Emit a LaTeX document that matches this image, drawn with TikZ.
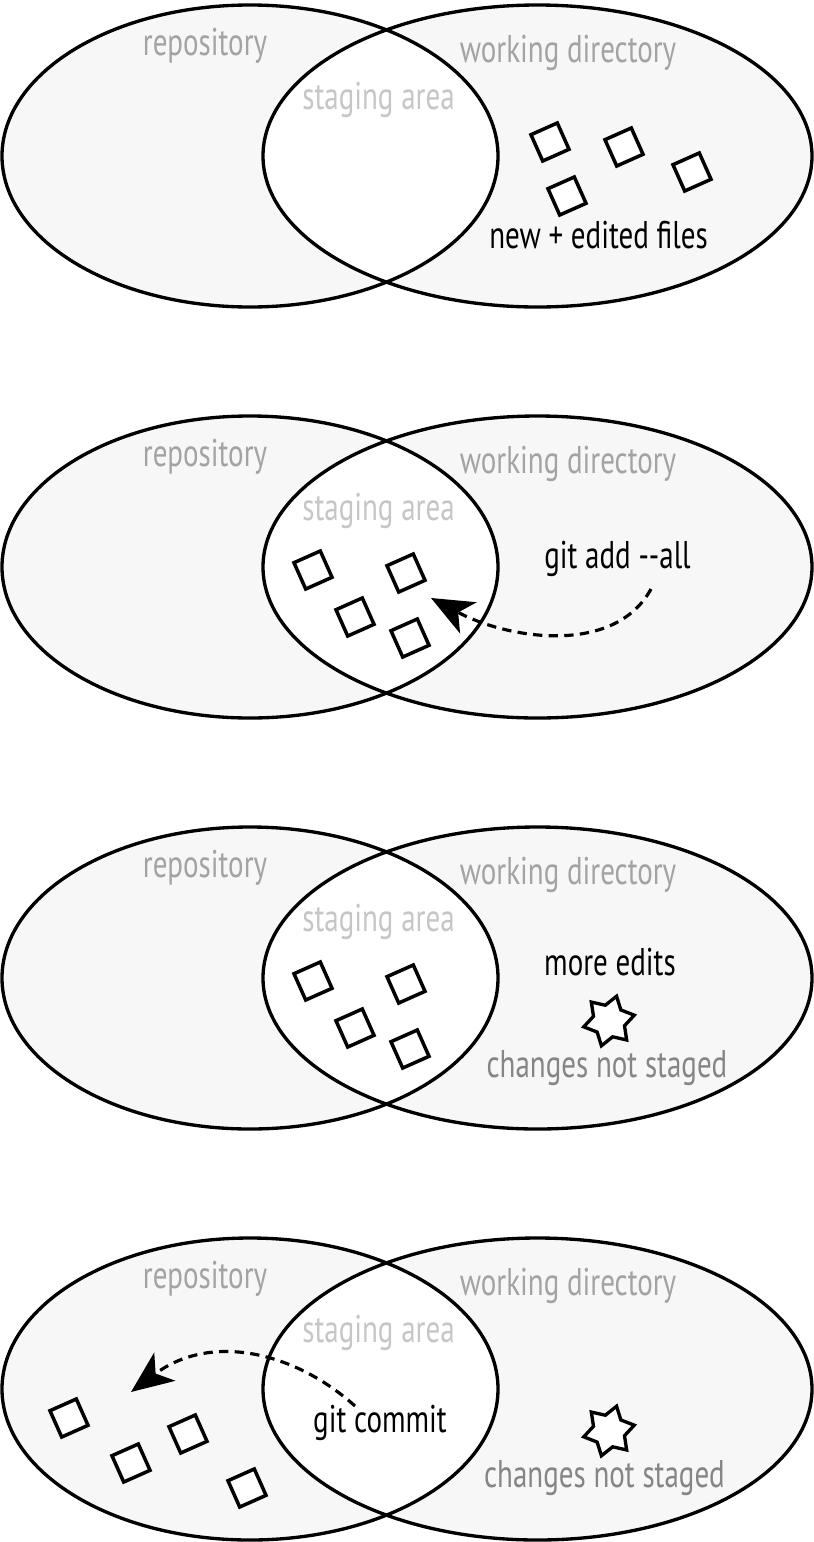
\documentclass[tikz,border=0pt]{standalone}
\usepackage{fontspec}
\setmainfont[FakeStretch=0.75]{PT Sans}
\usepackage{xcolor}
\usepackage{tikz}
\usetikzlibrary{arrows.meta,shapes.geometric}
\definecolor{areafill}{HTML}{F7F7F7}
\definecolor{areagray}{HTML}{A3A3A3}
\definecolor{stagegray}{HTML}{C6C6C6}
\definecolor{unstaged}{HTML}{858585}

\begin{document}
\begin{tikzpicture}[x=0.02cm,y=-0.02cm,
		every node/.style={font=\fontsize{22}{26}\selectfont,anchor=base,inner sep=0pt},
		file/.style={draw,fill=white,line width=2pt,minimum size=16.4pt,rotate=24,anchor=center},
		edit/.style={star,star points=6,star point ratio=1.6,draw,fill=white,line width=1.9pt,minimum size=29.5pt,rotate=-17,anchor=center},
		cmd/.style={-{Stealth[length=24pt,width=20pt,inset=6.5pt]},line width=1.8pt,dash pattern=on 5.3pt off 3.6pt}]
		\useasboundingbox (0,0) rectangle (814,1542);
		%
		\foreach \cy/\n in {156/1,567/2,978/3,1389/4}{
			\fill[areafill] (250,\cy) ellipse [x radius=248,y radius=151];
			\fill[areafill] (537.5,\cy) ellipse [x radius=274.5,y radius=151];
			\begin{scope}
				\clip (250,\cy) ellipse [x radius=248,y radius=151];
				\fill[white] (537.5,\cy) ellipse [x radius=274.5,y radius=151];
			\end{scope}
			\draw[line width=1.9pt] (250,\cy) ellipse [x radius=248,y radius=151];
			\draw[line width=1.9pt] (537.5,\cy) ellipse [x radius=274.5,y radius=151];
			\node[text=areagray] (repo\n) at (205,\cy-101) {repository};
			\node[text=areagray] (work\n) at (568,\cy-94) {working directory};
			\node[text=stagegray] (stage\n) at (378.5,\cy-47) {staging area};
		}
		%
		% 1: new files in the working directory
		\node[file] (f1a) at (550,142) {};
		\node[file] (f1b) at (624,147) {};
		\node[file] (f1c) at (692,172) {};
		\node[file] (f1d) at (567,196) {};
		\node (newfiles) at (598.5,248) {new + edited files};
		%
		% 2: git add
		\node[file] (f2a) at (313,570) {};
		\node[file] (f2b) at (406,573) {};
		\node[file] (f2c) at (355,617) {};
		\node[file] (f2d) at (410,638) {};
		\node (gitadd) at (617.5,568) {git add -{}-all};
		\coordinate (addfrom) at (651,589);
		\coordinate (addto) at (431,598);
		\draw[cmd] (addfrom) .. controls (615,655) and (510,640) .. (addto);
		%
		% 3: more edits
		\node[file] (f3a) at (313,981) {};
		\node[file] (f3b) at (406,984) {};
		\node[file] (f3c) at (355,1028) {};
		\node[file] (f3d) at (410,1049) {};
		\node (moreedits) at (610,975) {more edits};
		\node[edit] (e3) at (609,1021) {};
		\node[text=unstaged] (notstaged3) at (607,1077) {changes not staged};
		%
		% 4: git commit
		\node[file] (f4a) at (69,1418) {};
		\node[file] (f4b) at (188,1434) {};
		\node[file] (f4c) at (131,1463) {};
		\node[file] (f4d) at (247,1488) {};
		\node (gitcommit) at (380,1432) {git commit};
		\coordinate (commitfrom) at (355,1406);
		\coordinate (committo) at (131,1392);
		\draw[cmd] (commitfrom) .. controls (295,1352) and (211,1332) .. (committo);
		\node[edit] (e4) at (609,1431) {};
		\node[text=unstaged] (notstaged4) at (604.5,1487) {changes not staged};
	\end{tikzpicture}
\end{document}
